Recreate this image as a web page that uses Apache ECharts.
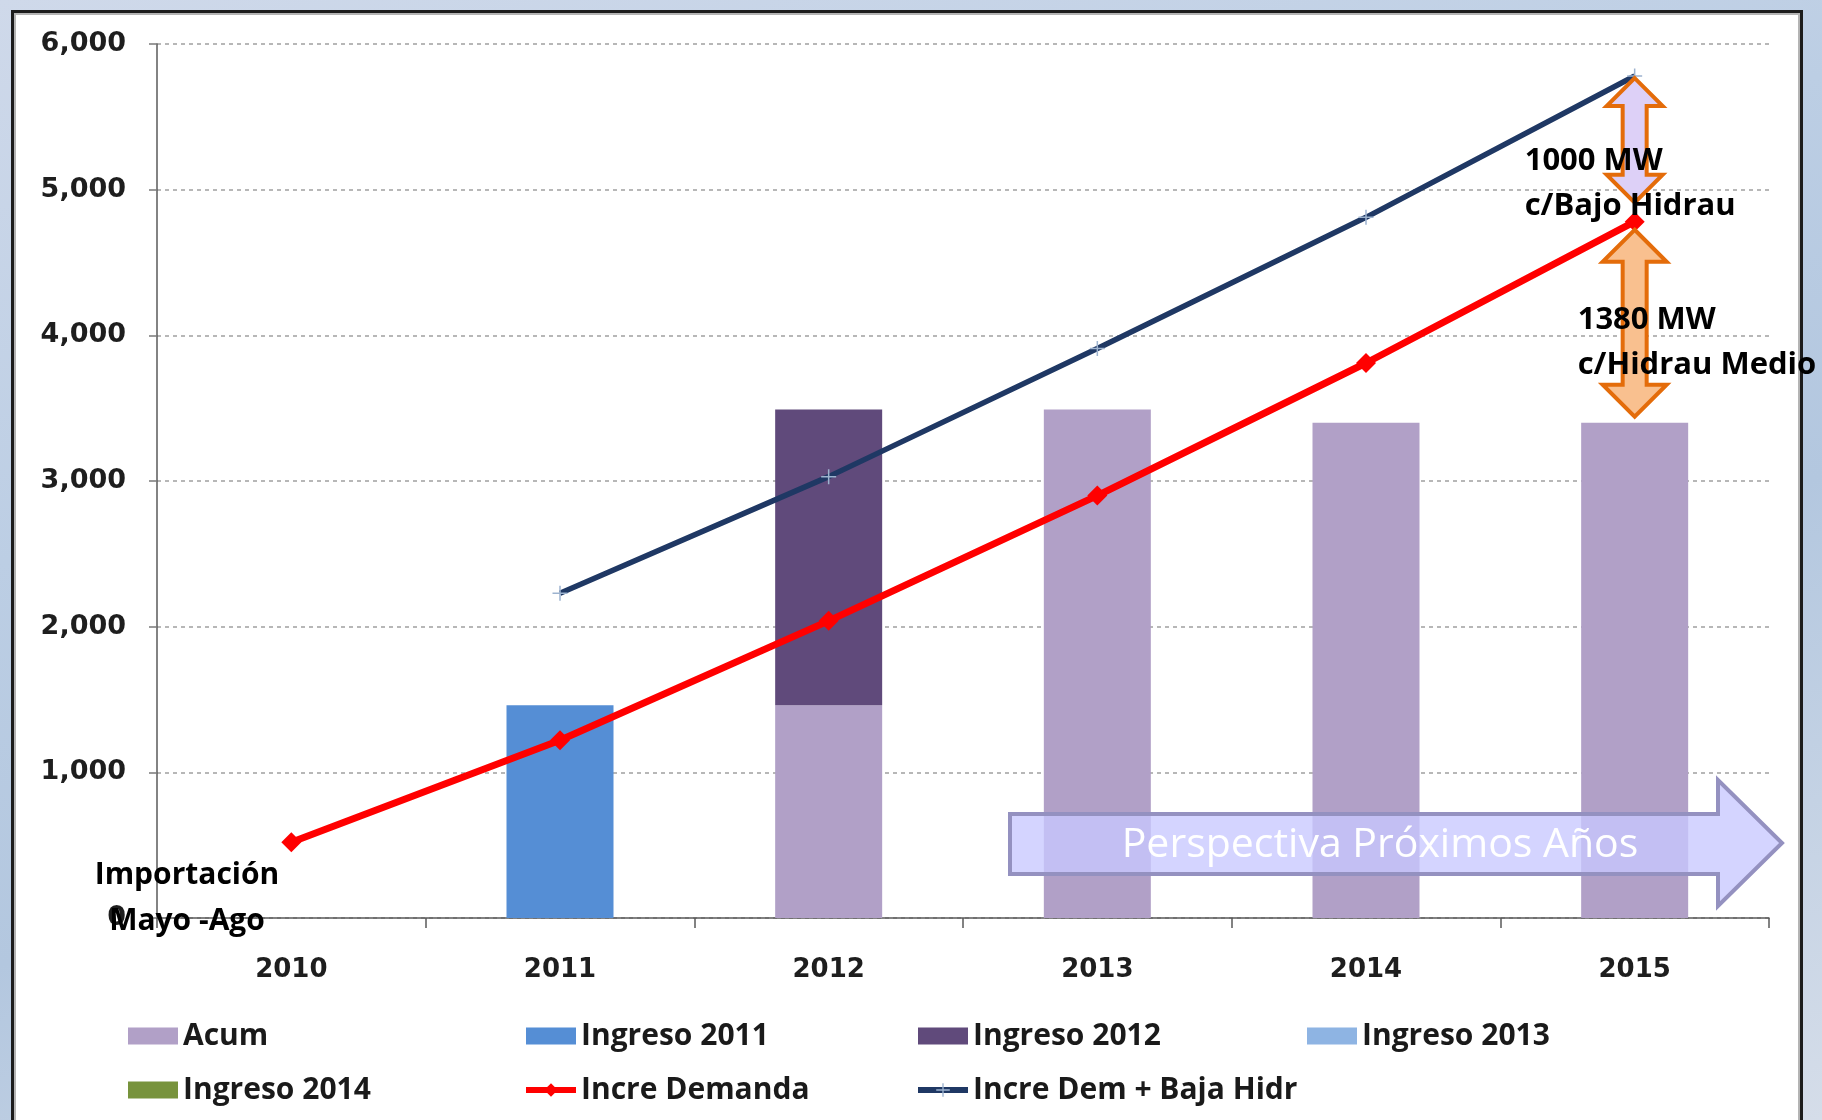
<!DOCTYPE html>
<html>
<head>
<meta charset="utf-8">
<script src="https://cdn.jsdelivr.net/npm/echarts@6/dist/echarts.min.js"></script>
<style>
  html, body { margin: 0; padding: 0; }
  body {
    width: 1822px; height: 1120px; overflow: hidden; position: relative;
    background: linear-gradient(165deg, #cfd9ea 0%, #bccee4 35%, #b3c7df 60%, #d5dde9 100%);
  }
  #panel {
    position: absolute; left: 11px; top: 10px; width: 1786px; height: 1120px;
    background: #ffffff; border: 3px solid #1c1c1c; border-bottom: none;
    box-shadow: inset 2px 2px 0 #b4b4b4, inset -2px 0 0 #b4b4b4;
  }
  #chart { position: absolute; left: 0; top: 0; width: 1822px; height: 1120px; }
</style>
</head>
<body>
<div id="panel"></div>
<div id="chart"></div>
<script>
// Capacity additions vs. demand growth, MW
const years = ['2010', '2011', '2012', '2013', '2014', '2015'];
const acum = [0, 0, 1460, 3490, 3400, 3400];
const ingreso2011 = [0, 1460, 0, 0, 0, 0];
const ingreso2012 = [0, 0, 2030, 0, 0, 0];
const ingreso2013 = [0, 0, 0, -15, 0, 0];
const ingreso2014 = [0, 0, 0, 0, 0, 0];
const increDemanda = [520, 1220, 2040, 2900, 3810, 4780];
const increDemBajaHidr = [null, 2230, 3030, 3910, 4810, 5780];
const yMin = 0, yMax = 6000, yStep = 1000;

const last = years.length - 1;
// gaps between the 2015 curves: dry-year margin and average-hydro margin
const gapBajo = increDemBajaHidr[last] - increDemanda[last];
const gapMedio = increDemanda[last] - acum[last];
const gapArrows = [
  [years[last], increDemBajaHidr[last], increDemanda[last], 0],
  [years[last], increDemanda[last], acum[last], 1]
];

const chart = echarts.init(document.getElementById('chart'), null, { renderer: 'canvas' });

const axisFont = '"DejaVu Sans", Verdana, sans-serif';
const textFont = '"Open Sans", "Noto Sans", sans-serif';

function doubleArrow(cx, t, b, hw, sw, hh) {
  return [
    [cx, t], [cx + hw / 2, t + hh], [cx + sw / 2, t + hh],
    [cx + sw / 2, b - hh], [cx + hw / 2, b - hh], [cx, b],
    [cx - hw / 2, b - hh], [cx - sw / 2, b - hh], [cx - sw / 2, t + hh],
    [cx - hw / 2, t + hh]
  ];
}

function renderGapArrow(params, api) {
  const kind = api.value(3);
  const pTop = api.coord([api.value(0), api.value(1)]);
  const pBot = api.coord([api.value(0), api.value(2)]);
  const cx = pTop[0];
  let t, b, hw, hh, fill, lines, tx, ty;
  if (kind === 0) {
    t = pTop[1] + 2; b = pBot[1] - 19; hw = 56; hh = 28; fill = '#ddd0f7';
    lines = [gapBajo + ' MW', 'c/Bajo Hidrau'];
    tx = cx - 110; ty = pTop[1] + 85;
  } else {
    t = pTop[1] + 8; b = pBot[1] - 6; hw = 64; hh = 32; fill = '#f9c08f';
    lines = [gapMedio + ' MW', 'c/Hidrau Medio'];
    tx = cx - 57; ty = pTop[1] + 98;
  }
  return {
    type: 'group',
    children: [
      {
        type: 'polygon',
        shape: { points: doubleArrow(cx, t, b, hw, 24, hh) },
        style: { fill: fill, stroke: '#e46c0a', lineWidth: 4, lineJoin: 'miter' }
      },
      {
        type: 'text',
        style: { text: lines[0], x: tx, y: ty, fill: '#000', font: 'bold 31px ' + textFont, align: 'left', verticalAlign: 'middle' }
      },
      {
        type: 'text',
        style: { text: lines[1], x: tx, y: ty + 45, fill: '#000', font: 'bold 31px ' + textFont, align: 'left', verticalAlign: 'middle' }
      }
    ]
  };
}

const legendText = { color: '#1a1a1a', fontFamily: textFont, fontWeight: 'bold', fontSize: 30, lineHeight: 30 };
function legendCol(left, items) {
  return {
    orient: 'vertical', left: left, top: 1021, padding: 0,
    itemWidth: 50, itemHeight: 17, itemGap: 24, selectedMode: false,
    textStyle: legendText, data: items
  };
}

const barCommon = { type: 'bar', stack: 'cap', barWidth: 107 };
const plusPath = 'path://M4.5,0h1v4.5h4.5v1h-4.5v4.5h-1v-4.5h-4.5v-1h4.5z';

const option = {
  animation: false,
  textStyle: { fontFamily: axisFont },
  grid: { left: 157, right: 53, top: 44, bottom: 202, containLabel: false },
  legend: [
    legendCol(128, [{ name: 'Acum', icon: 'rect' }, { name: 'Ingreso 2014', icon: 'rect' }]),
    legendCol(523, [{ name: 'Ingreso 2011', icon: 'rect' }, { name: 'Incre Demanda', lineStyle: { width: 6 } }]),
    legendCol(915, [{ name: 'Ingreso 2012', icon: 'rect' }, { name: 'Incre Dem + Baja Hidr', lineStyle: { width: 6 } }]),
    legendCol(1307, [{ name: 'Ingreso 2013', icon: 'rect' }])
  ],
  xAxis: {
    type: 'category', data: years, boundaryGap: true,
    axisLine: { lineStyle: { color: '#5a5a5a', width: 1.5 } },
    axisTick: { show: true, length: 10, lineStyle: { color: '#5a5a5a', width: 1.5 } },
    axisLabel: { margin: 39, color: '#1e1e1e', fontWeight: 'bold', fontSize: 26, fontFamily: axisFont }
  },
  yAxis: {
    type: 'value', min: yMin, max: yMax, interval: yStep,
    axisLine: { show: true, lineStyle: { color: '#5a5a5a', width: 1.5 } },
    axisTick: { show: true, length: 8, lineStyle: { color: '#7a7a7a', width: 1.5 } },
    splitLine: { show: true, lineStyle: { color: '#a0a0a0', width: 1.5, type: [4, 4] } },
    axisLabel: {
      margin: 31, color: '#1e1e1e', fontWeight: 'bold', fontSize: 27, fontFamily: axisFont,
      formatter: v => v.toLocaleString('en-US')
    }
  },
  graphic: [
    {
      type: 'polygon', z: 100,
      shape: { points: [[1010, 814], [1718, 814], [1718, 780], [1782, 843], [1718, 906], [1718, 874], [1010, 874]] },
      style: { fill: 'rgba(200, 200, 255, 0.78)', stroke: '#9491c0', lineWidth: 4 }
    },
    {
      type: 'text', z: 101,
      style: { text: 'Perspectiva Próximos Años', x: 1380, y: 845, fill: '#ffffff', font: '41px ' + textFont, align: 'center', verticalAlign: 'middle' }
    },
    {
      type: 'text', z: 101,
      style: { text: 'Importación', x: 187, y: 875, fill: '#000', font: 'bold 30px ' + textFont, align: 'center', verticalAlign: 'middle' }
    },
    {
      type: 'text', z: 101,
      style: { text: 'Mayo -Ago', x: 187, y: 921, fill: '#000', font: 'bold 30px ' + textFont, align: 'center', verticalAlign: 'middle' }
    }
  ],
  series: [
    Object.assign({ name: 'Acum', data: acum, itemStyle: { color: '#b1a0c7' } }, barCommon),
    Object.assign({ name: 'Ingreso 2011', data: ingreso2011, itemStyle: { color: '#558ed5' } }, barCommon),
    Object.assign({ name: 'Ingreso 2012', data: ingreso2012, itemStyle: { color: '#604a7b' } }, barCommon),
    Object.assign({ name: 'Ingreso 2013', data: ingreso2013, itemStyle: { color: '#8eb4e3' } }, barCommon),
    Object.assign({ name: 'Ingreso 2014', data: ingreso2014, itemStyle: { color: '#77933c' } }, barCommon),
    {
      name: 'Incre Demanda', type: 'line', data: increDemanda, z: 4,
      symbol: 'diamond', symbolSize: 20, showAllSymbol: true,
      lineStyle: { color: '#ff0000', width: 7 },
      itemStyle: { color: '#ff0000' }
    },
    {
      name: 'Incre Dem + Baja Hidr', type: 'line', data: increDemBajaHidr, z: 4,
      symbol: plusPath, symbolSize: 15, showAllSymbol: true, connectNulls: false,
      lineStyle: { color: '#1f3864', width: 5.5 },
      itemStyle: { color: '#9db3cf' }
    },
    {
      name: 'gap', type: 'custom', z: 6, clip: false,
      coordinateSystem: 'cartesian2d',
      encode: { x: 0, y: [1, 2] },
      data: gapArrows,
      renderItem: renderGapArrow
    }
  ]
};

chart.setOption(option);
</script>
</body>
</html>
